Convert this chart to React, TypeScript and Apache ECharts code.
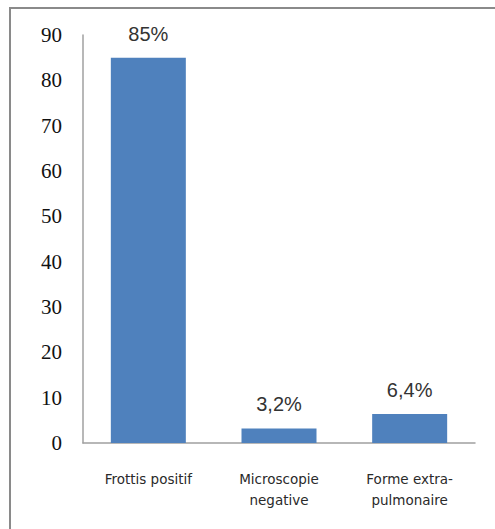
import React, { useEffect, useRef } from "react";
import * as echarts from "echarts";

const categories = ["Frottis positif", "Microscopie\nnegative", "Forme extra-\npulmonaire"];
const values = [85, 3.2, 6.4];
const valueLabels = ["85%", "3,2%", "6,4%"];
const yTicks = { min: 0, max: 90, interval: 10 };

export default function App() {
  const ref = useRef<HTMLDivElement>(null);
  useEffect(() => {
    if (!ref.current) return;
    const chart = echarts.init(ref.current, null, { renderer: "svg" });
    chart.setOption({
      animation: false,
      backgroundColor: "#ffffff",
      graphic: [
        { type: "line", shape: { x1: 9, y1: 8, x2: 495, y2: 8 }, style: { stroke: "#8a8a8a", lineWidth: 2 } },
        { type: "line", shape: { x1: 10, y1: 7, x2: 10, y2: 529 }, style: { stroke: "#8a8a8a", lineWidth: 2 } },
      ],
      grid: { left: 83, top: 35, right: 20, bottom: 86 },
      xAxis: {
        type: "category",
        data: categories,
        axisLine: { lineStyle: { color: "#a0a0a0", width: 1.5 } },
        axisTick: { show: false },
        axisLabel: {
          interval: 0,
          margin: 25,
          fontFamily: "DejaVu Sans",
          fontSize: 13.5,
          color: "#2a2a2a",
          lineHeight: 21,
        },
      },
      yAxis: {
        type: "value",
        min: yTicks.min,
        max: yTicks.max,
        interval: yTicks.interval,
        axisLine: { show: true, lineStyle: { color: "#a0a0a0", width: 1.5 } },
        axisTick: { show: false },
        splitLine: { show: false },
        axisLabel: {
          margin: 21,
          fontFamily: "Liberation Serif",
          fontSize: 21,
          color: "#111",
        },
      },
      series: [
        {
          type: "bar",
          data: values,
          barWidth: 75,
          itemStyle: { color: "#4F81BD" },
          label: {
            show: true,
            position: "top",
            distance: 14,
            fontFamily: "Liberation Sans",
            fontSize: 20,
            color: "#333",
            formatter: (p: any) => valueLabels[p.dataIndex],
          },
        },
      ],
    });
    return () => chart.dispose();
  }, []);
  return <div ref={ref} style={{ position: "fixed", left: 0, top: 0, width: 495, height: 529 }} />;
}
